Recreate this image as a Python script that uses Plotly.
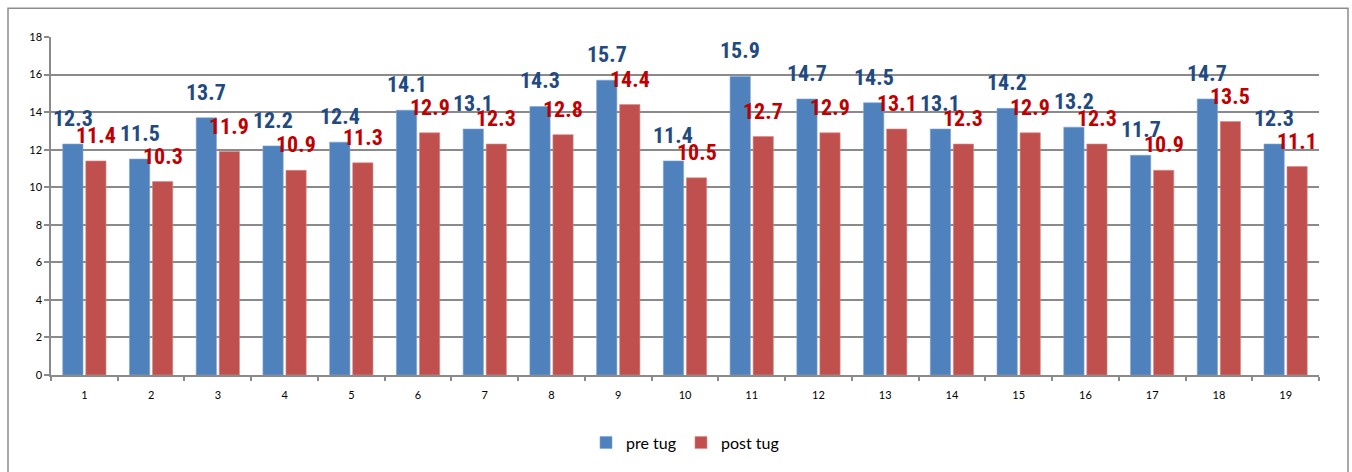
import plotly.graph_objects as go

# Trial numbers and measured values (seconds)
trials = list(range(1, 20))
pre_tug = [12.3, 11.5, 13.7, 12.2, 12.4, 14.1, 13.1, 14.3, 15.7, 11.4,
           15.9, 14.7, 14.5, 13.1, 14.2, 13.2, 11.7, 14.7, 12.3]
post_tug = [11.4, 10.3, 11.9, 10.9, 11.3, 12.9, 12.3, 12.8, 14.4, 10.5,
            12.7, 12.9, 13.1, 12.3, 12.9, 12.3, 10.9, 13.5, 11.1]
y_ticks = list(range(0, 19, 2))

BLUE = "#4F81BD"
RED = "#C0504D"
BLUE_TXT = "#1F4A82"
RED_TXT = "#C00000"
GRID = "#8A8A8A"

W, H = 1352, 472
ML, MR, MT, MB = 51, 33, 37, 93
BARGAP, GROUPGAP = 0.31, 0.12
slot = (1 - BARGAP) / 2  # width of each series slot within a group

fig = go.Figure()
fig.add_bar(x=trials, y=pre_tug, name="pre tug",
            marker=dict(color=BLUE, line=dict(color="#7FA3D3", width=0.6)))
fig.add_bar(x=trials, y=post_tug, name="post tug",
            marker=dict(color=RED, line=dict(color="#D98A88", width=0.6)))

label_font = "Liberation Sans Narrow, Arial Narrow, Roboto Condensed, sans-serif"
annotations = []
for t, v in zip(trials, pre_tug):
    annotations.append(dict(x=t - slot / 2, y=v, text=f"<b>{v}</b>", showarrow=False,
                            xanchor="center", yanchor="bottom", yshift=11,
                            font=dict(family=label_font, size=22, color=BLUE_TXT)))
for t, v in zip(trials, post_tug):
    annotations.append(dict(x=t + slot / 2, y=v, text=f"<b>{v}</b>", showarrow=False,
                            xanchor="center", yanchor="bottom", yshift=11,
                            font=dict(family=label_font, size=22, color=RED_TXT)))

pw = W - ML - MR
ph = H - MT - MB
border = dict(type="rect", xref="paper", yref="paper",
              x0=(8 - ML) / pw, x1=(1348 - ML) / pw,
              y0=(H - MB - 480) / ph, y1=(H - MB - 8) / ph,
              line=dict(color="#8C8C8C", width=1.5), fillcolor="rgba(0,0,0,0)", layer="below")

fig.update_layout(
    width=W, height=H,
    margin=dict(l=ML, r=MR, t=MT, b=MB),
    paper_bgcolor="white", plot_bgcolor="white",
    barmode="group", bargap=BARGAP, bargroupgap=GROUPGAP,
    font=dict(family="Lato, Liberation Sans, sans-serif", color="#000000", size=11),
    xaxis=dict(range=[0.5, 19.5], tickmode="array", tickvals=trials,
               ticks="", showgrid=False, showline=True, linecolor=GRID, linewidth=1.5,
               tickfont=dict(size=11), zeroline=False, ticklabelstandoff=9,
               minor=dict(tickmode="array", tickvals=[t - 0.5 for t in trials] + [19.5],
                          ticks="outside", ticklen=4, tickcolor=GRID, tickwidth=1.5,
                          showgrid=False)),
    yaxis=dict(range=[0, 18], tickmode="array", tickvals=y_ticks,
               ticks="outside", ticklen=5, tickcolor=GRID, tickwidth=1.5,
               showgrid=True, gridcolor=GRID, gridwidth=1.5,
               showline=True, linecolor=GRID, linewidth=1.5, zeroline=False,
               tickfont=dict(size=11)),
    legend=dict(orientation="h", x=0.5, xanchor="center", y=-0.15, yanchor="top",
                font=dict(size=16), itemwidth=30, traceorder="normal"),
    annotations=annotations,
    shapes=[border],
)

fig.write_html("out.html")
